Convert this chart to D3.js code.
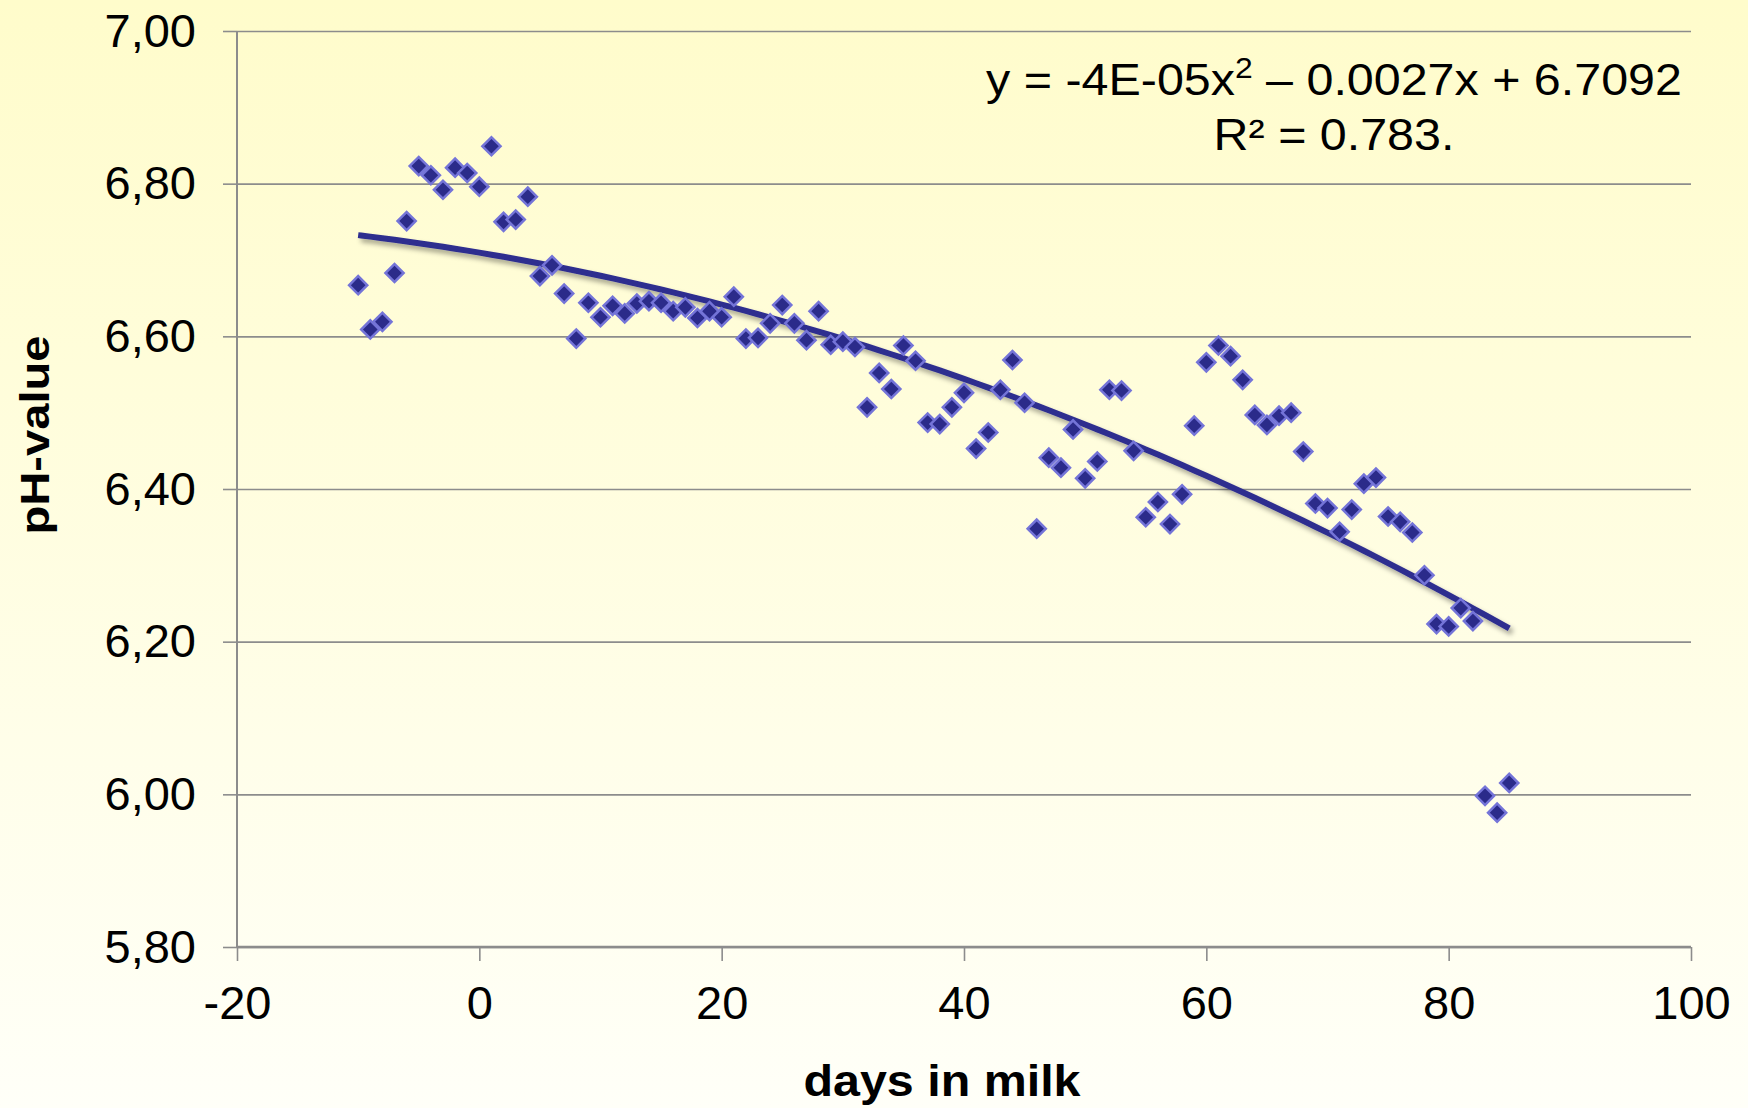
<!DOCTYPE html>
<html>
<head>
<meta charset="utf-8">
<script src="https://cdn.jsdelivr.net/npm/d3@7"></script>
<style>
  html, body { margin: 0; padding: 0; }
  body { width: 1748px; height: 1108px; overflow: hidden; }
  text { font-family: "Liberation Sans", Arial, sans-serif; fill: #000; }
</style>
</head>
<body>
<svg id="chart" width="1748" height="1108"></svg>
<script>
// days in milk (x) and measured pH (y)
const days = [-10, -9, -8, -7, -6, -5, -4, -3, -2, -1, 0, 1, 2, 3, 4, 5, 6, 7, 8, 9,
  10, 11, 12, 13, 14, 15, 16, 17, 18, 19, 20, 21, 22, 23, 24, 25, 26, 27, 28, 29,
  30, 31, 32, 33, 34, 35, 36, 37, 38, 39, 40, 41, 42, 43, 44, 45, 46, 47, 48, 49,
  50, 51, 52, 53, 54, 55, 56, 57, 58, 59, 60, 61, 62, 63, 64, 65, 66, 67, 68, 69,
  70, 71, 72, 73, 74, 75, 76, 77, 78, 79, 80, 81, 82, 83, 84, 85];
const phValues = [6.667, 6.609, 6.619, 6.683, 6.751, 6.823, 6.811, 6.792, 6.821, 6.814,
  6.796, 6.849, 6.750, 6.753, 6.783, 6.679, 6.693, 6.656, 6.597, 6.644,
  6.625, 6.640, 6.630, 6.643, 6.646, 6.644, 6.633, 6.638, 6.624, 6.633,
  6.625, 6.652, 6.597, 6.598, 6.617, 6.641, 6.617, 6.595, 6.633, 6.589,
  6.593, 6.586, 6.507, 6.552, 6.531, 6.588, 6.568, 6.487, 6.485, 6.507,
  6.526, 6.453, 6.474, 6.530, 6.569, 6.513, 6.348, 6.441, 6.428, 6.478,
  6.414, 6.436, 6.530, 6.529, 6.450, 6.363, 6.383, 6.354, 6.393, 6.483,
  6.566, 6.588, 6.574, 6.543, 6.497, 6.484, 6.496, 6.500, 6.449, 6.381,
  6.375, 6.344, 6.373, 6.407, 6.415, 6.364, 6.357, 6.343, 6.287, 6.223,
  6.220, 6.244, 6.227, 5.998, 5.976, 6.015];

const xTicks = [-20, 0, 20, 40, 60, 80, 100];
const xTickLabels = ["-20", "0", "20", "40", "60", "80", "100"];
const yTicks = [5.8, 6.0, 6.2, 6.4, 6.6, 6.8, 7.0];
const yTickLabels = ["5,80", "6,00", "6,20", "6,40", "6,60", "6,80", "7,00"];

const W = 1748, H = 1108;
const mLeft = 237, mRight = 1691, mTop = 31, mBottom = 947;

const svg = d3.select("#chart");

// page background
const defs = svg.append("defs");
const grad = defs.append("linearGradient").attr("id", "bg")
  .attr("x1", 0).attr("y1", 0).attr("x2", 0).attr("y2", 1);
grad.append("stop").attr("offset", "0%").attr("stop-color", "#fffccb");
grad.append("stop").attr("offset", "100%").attr("stop-color", "#fffff8");
svg.append("rect").attr("width", W).attr("height", H).attr("fill", "url(#bg)");

const shadow = defs.append("filter").attr("id", "shadow")
  .attr("x", "-5%").attr("y", "-5%").attr("width", "110%").attr("height", "130%");
shadow.append("feDropShadow").attr("dx", 3).attr("dy", 4).attr("stdDeviation", 2.5)
  .attr("flood-color", "#000").attr("flood-opacity", 0.35);

const x = d3.scaleLinear().domain([-20, 100]).range([mLeft, mRight]);
const y = d3.scaleLinear().domain([5.8, 7.0]).range([mBottom, mTop]);

// gridlines
svg.append("g")
  .attr("transform", `translate(${mLeft},0)`)
  .call(d3.axisLeft(y).tickValues(yTicks).tickSize(-(mRight - mLeft)).tickFormat(""))
  .call(g => g.select(".domain").remove())
  .call(g => g.selectAll("line").attr("stroke", "#8c8c8c").attr("stroke-width", 1.6));

// y axis
svg.append("g")
  .attr("transform", `translate(${mLeft},0)`)
  .call(d3.axisLeft(y).tickValues(yTicks).tickSize(14).tickPadding(27)
    .tickFormat((d, i) => yTickLabels[i]))
  .call(g => g.select(".domain").attr("d", `M0,${mTop}V${mBottom}`)
    .attr("stroke", "#8c8c8c").attr("stroke-width", 2))
  .call(g => g.selectAll("line").attr("stroke", "#8c8c8c").attr("stroke-width", 1.6))
  .call(g => g.selectAll("text").attr("font-size", 47)
    .attr("font-family", '"Liberation Sans", Arial, sans-serif').attr("fill", "#000"));

// x axis
svg.append("g")
  .attr("transform", `translate(0,${mBottom})`)
  .call(d3.axisBottom(x).tickValues(xTicks).tickSize(14).tickPadding(25)
    .tickFormat((d, i) => xTickLabels[i]))
  .call(g => g.select(".domain").attr("d", `M${mLeft},0H${mRight}`)
    .attr("stroke", "#8c8c8c").attr("stroke-width", 2.5))
  .call(g => g.selectAll("line").attr("stroke", "#8c8c8c").attr("stroke-width", 1.6))
  .call(g => g.selectAll("text").attr("font-size", 47)
    .attr("font-family", '"Liberation Sans", Arial, sans-serif').attr("fill", "#000"));

// axis titles
svg.append("text")
  .attr("transform", `translate(49,435) rotate(-90) scale(1.15,1)`)
  .attr("text-anchor", "middle")
  .attr("font-size", 41).attr("font-weight", "bold")
  .text("pH-value");

svg.append("text")
  .attr("transform", `translate(942,1096) scale(1.1,1)`)
  .attr("text-anchor", "middle")
  .attr("font-size", 44).attr("font-weight", "bold")
  .text("days in milk");

// quadratic least-squares trend
function polyFit2(xs, ys) {
  let s = [0, 0, 0, 0, 0], t = [0, 0, 0];
  xs.forEach((xv, i) => {
    for (let k = 0; k < 5; k++) s[k] += Math.pow(xv, k);
    for (let k = 0; k < 3; k++) t[k] += ys[i] * Math.pow(xv, k);
  });
  const A = [[s[0], s[1], s[2], t[0]], [s[1], s[2], s[3], t[1]], [s[2], s[3], s[4], t[2]]];
  for (let c = 0; c < 3; c++) {
    for (let r = c + 1; r < 3; r++) {
      const f = A[r][c] / A[c][c];
      for (let k = c; k < 4; k++) A[r][k] -= f * A[c][k];
    }
  }
  const b = [0, 0, 0];
  for (let r = 2; r >= 0; r--) {
    let v = A[r][3];
    for (let k = r + 1; k < 3; k++) v -= A[r][k] * b[k];
    b[r] = v / A[r][r];
  }
  return b; // c0 + c1 x + c2 x^2
}
const coef = polyFit2(days, phValues);
const trendPts = days.map(d => [d, coef[0] + coef[1] * d + coef[2] * d * d]);

svg.append("path")
  .datum(trendPts)
  .attr("fill", "none")
  .attr("stroke", "#2e2e8f")
  .attr("stroke-width", 6)
  .attr("filter", "url(#shadow)")
  .attr("d", d3.line().x(d => x(d[0])).y(d => y(d[1])).curve(d3.curveMonotoneX));

// markers
const diamond = d3.symbol().type(d3.symbolSquare).size(165);
svg.append("g")
  .selectAll("path")
  .data(days)
  .join("path")
  .attr("transform", (d, i) => `translate(${x(d)},${y(phValues[i])}) rotate(45)`)
  .attr("d", diamond)
  .attr("fill", "#2b2b8a")
  .attr("stroke", "#7474d8")
  .attr("stroke-width", 2.5);

// equation label
const eq = svg.append("text")
  .attr("transform", "translate(1334,95) scale(1.1,1)")
  .attr("text-anchor", "middle")
  .attr("font-size", 44);
eq.append("tspan").text("y = -4E-05x");
eq.append("tspan").attr("font-size", 29).attr("dy", -17).text("2");
eq.append("tspan").attr("dy", 17).text(" – 0.0027x + 6.7092");

svg.append("text")
  .attr("transform", "translate(1334,150) scale(1.1,1)")
  .attr("text-anchor", "middle")
  .attr("font-size", 44)
  .text("R² = 0.783.");
</script>
</body>
</html>
